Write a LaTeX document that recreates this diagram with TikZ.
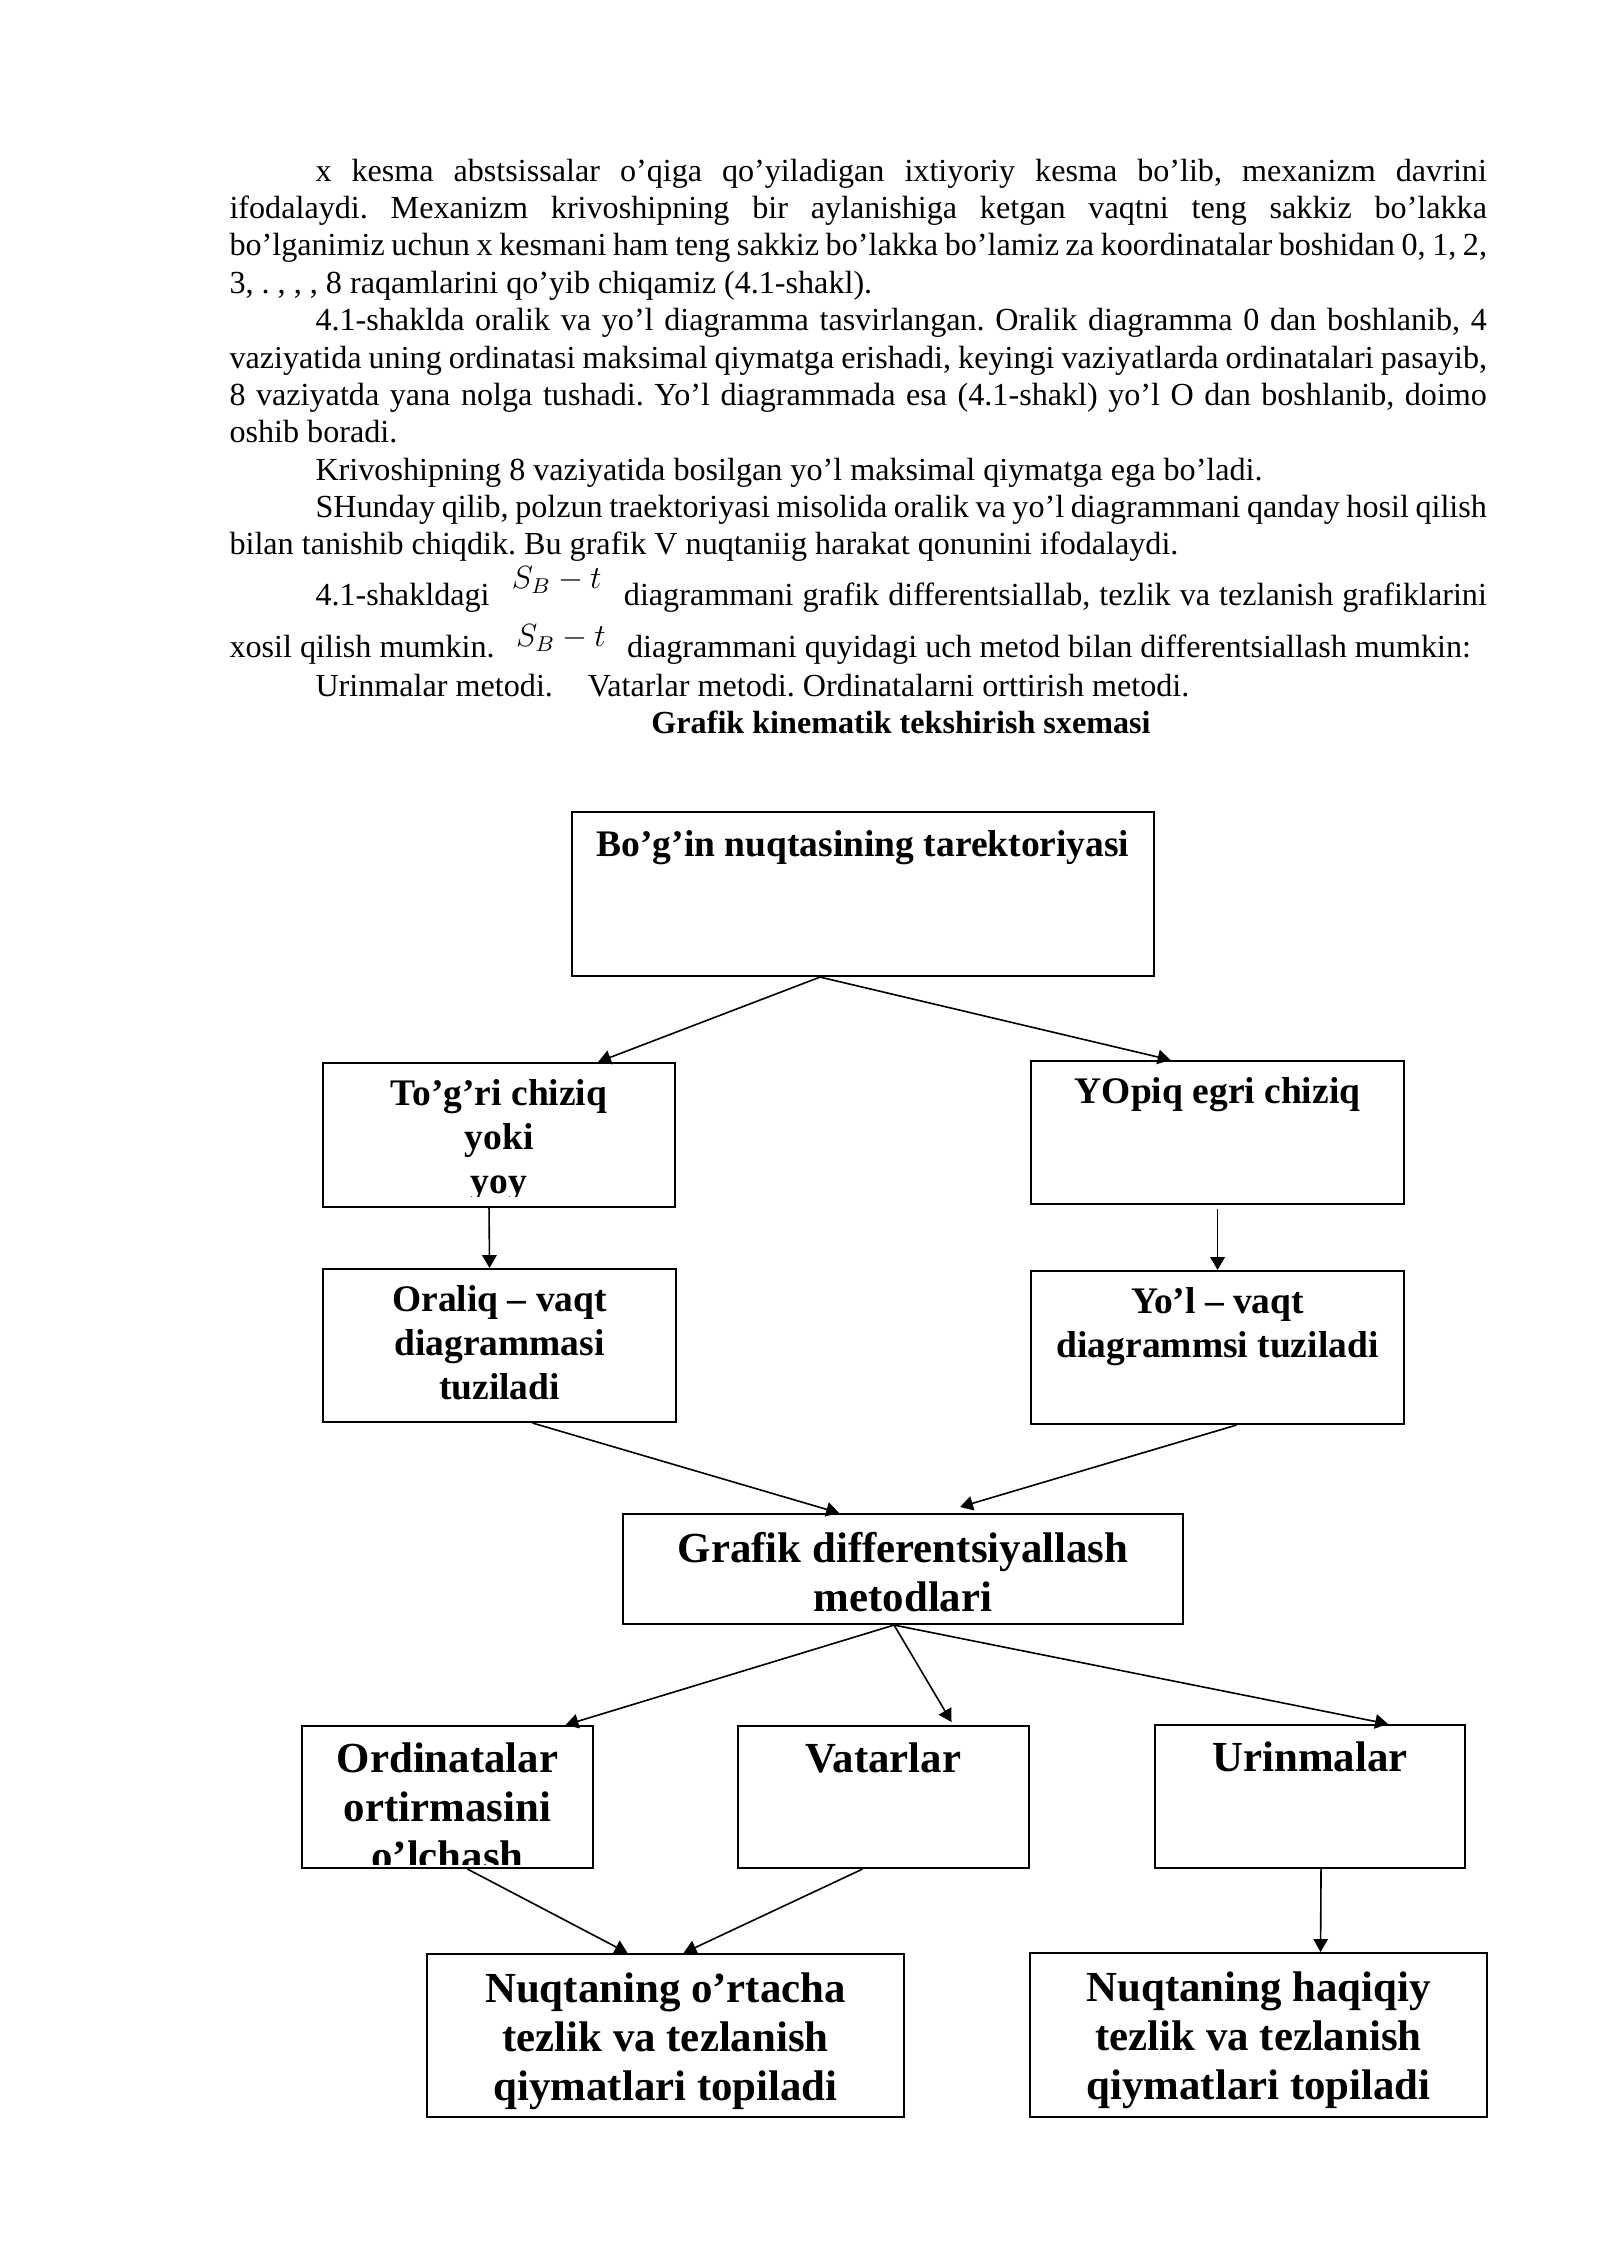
\documentclass[tikz,border=0pt]{standalone}
\usepackage{fontspec}
\setmainfont{Liberation Serif}
\usetikzlibrary{positioning,calc,arrows.meta}
\frenchspacing

\tikzset{
  blk/.style 2 args={draw, line width=0.75pt, anchor=north west, inner sep=0pt,
    minimum width=#1, minimum height=#2},
  txtline/.style={anchor=base west, inner sep=0pt, font=\fontsize{12}{13.9}\selectfont},
  lbl/.style={align=center, inner sep=0pt, font=\fontsize{14}{16.4}\selectfont\bfseries},
  lblbig/.style={align=center, inner sep=0pt, font=\fontsize{16}{18.3}\selectfont\bfseries},
  arr/.style={-{Triangle[length=4.8pt,width=5.4pt]}, line width=0.6pt}
}
\newcommand{\fullline}[1]{\makebox[16.5cm][s]{#1}}
\newcommand{\indline}[1]{\makebox[15.37cm][s]{#1}}

\begin{document}
\begin{tikzpicture}[x=0.013125cm, y=-0.013125cm]
  \useasboundingbox (0,0) rectangle (1600,2262);
  % text above the scheme
  \node[txtline] (l1) at (315,182) {\indline{x kesma abstsissalar o’qiga qo’yiladigan ixtiyoriy kesma bo’lib, mexanizm davrini}};
  \node[txtline] (l2) at (229,219) {\fullline{ifodalaydi. Mexanizm krivoshipning bir aylanishiga ketgan vaqtni teng sakkiz bo’lakka}};
  \node[txtline] (l3) at (229,256) {\fullline{bo’lganimiz uchun x kesmani ham teng sakkiz bo’lakka bo’lamiz za koordinatalar boshidan 0, 1, 2,}};
  \node[txtline] (l4) at (229,294) {3, . , , , 8 raqamlarini qo’yib chiqamiz (4.1-shakl).};
  \node[txtline] (l5) at (315,331) {\indline{4.1-shaklda oralik va yo’l diagramma tasvirlangan. Oralik diagramma 0 dan boshlanib, 4}};
  \node[txtline] (l6) at (229,368) {\fullline{vaziyatida uning ordinatasi maksimal qiymatga erishadi, keyingi vaziyatlarda ordinatalari pasayib,}};
  \node[txtline] (l7) at (229,405) {\fullline{8 vaziyatda yana nolga tushadi. Yo’l diagrammada esa (4.1-shakl) yo’l O dan boshlanib, doimo}};
  \node[txtline] (l8) at (229,442) {oshib boradi.};
  \node[txtline] (l9) at (315,480) {Krivoshipning 8 vaziyatida bosilgan yo’l maksimal qiymatga ega bo’ladi.};
  \node[txtline] (l10) at (315,517) {\indline{SHunday qilib, polzun traektoriyasi misolida oralik va yo’l diagrammani qanday hosil qilish}};
  \node[txtline] (l11) at (229,554) {bilan tanishib chiqdik. Bu grafik V nuqtaniig harakat qonunini ifodalaydi.};
  \node[txtline] (l12) at (315,605) {\indline{4.1-shakldagi \hspace{5pt}\raisebox{6pt}{$S_B - t$}\hspace{5pt} diagrammani grafik differentsiallab, tezlik va tezlanish grafiklarini}};
  \node[txtline] (l13) at (229,657) {xosil qilish mumkin. \hspace{5pt}\raisebox{4pt}{$S_B - t$}\hspace{5pt} diagrammani quyidagi uch metod bilan differentsiallash mumkin:};
  \node[txtline] (l14) at (315,696) {Urinmalar metodi.\hspace{13pt}Vatarlar metodi. Ordinatalarni orttirish metodi.};
  \node[txtline, anchor=base, font=\fontsize{12}{13.9}\selectfont\bfseries] (ttl) at (901,733) {Grafik kinematik tekshirish sxemasi};

  % boxes of the scheme
  \node[blk={7.639cm}{2.153cm}] (tb) at (571,811) {};
  \node[blk={4.620cm}{1.890cm}] (tgr) at (322,1062) {};
  \node[blk={4.896cm}{1.877cm}] (yop) at (1030,1060) {};
  \node[blk={4.633cm}{2.008cm}] (orl) at (322,1268) {};
  \node[blk={4.896cm}{2.008cm}] (yol) at (1030,1270) {};
  \node[blk={7.350cm}{1.444cm}] (grf) at (622,1513) {};
  \node[blk={3.819cm}{1.864cm}] (ord) at (301,1725) {};
  \node[blk={3.819cm}{1.864cm}] (vat) at (737,1725) {};
  \node[blk={4.069cm}{1.877cm}] (urn) at (1154,1724) {};
  \node[blk={6.261cm}{2.139cm}] (ort) at (426,1953) {};
  \node[blk={5.998cm}{2.153cm}] (haq) at (1029,1952) {};

  % texts in the boxes
  \node[lbl, below=0.186cm of tb.north] (tbtxt) {\strut Bo’g’in nuqtasining tarektoriyasi};
  \begin{scope}
    \clip (tgr.north west) rectangle ($(tgr.south east)+(0,-12)$);
    \node[lbl, below=0.16cm of tgr.north] (tgrtxt) {\strut To’g’ri chiziq\\ yoki\\ yoy};
  \end{scope}
  \node[lbl, below=0.16cm of yop.north] (yoptxt) {\strut YOpiq egri chiziq};
  \node[lbl, below=0.16cm of orl.north] (orltxt) {\strut Oraliq – vaqt\\ diagrammasi\\ tuziladi};
  \node[lbl, below=0.16cm of yol.north] (yoltxt) {\strut Yo’l – vaqt\\ diagrammsi tuziladi};
  \node[lblbig, below=0.19cm of grf.north] (grftxt) {\strut Grafik differentsiyallash\\ metodlari};
  \begin{scope}
    \clip (ord.north west) rectangle ($(ord.south east)+(0,-5)$);
    \node[lblbig, below=0.165cm of ord.north] (ordtxt) {\strut Ordinatalar\\ ortirmasini\\ o’lchash};
  \end{scope}
  \node[lblbig, below=0.165cm of vat.north] (vattxt) {\strut Vatarlar};
  \node[lblbig, below=0.165cm of urn.north] (urntxt) {\strut Urinmalar};
  \node[lblbig, below=0.19cm of ort.north] (orttxt) {\strut Nuqtaning o’rtacha\\ tezlik va tezlanish\\ qiymatlari topiladi};
  \node[lblbig, below=0.19cm of haq.north] (haqtxt) {\strut Nuqtaning haqiqiy\\ tezlik va tezlanish\\ qiymatlari topiladi};

  \begin{scope}[arr]
    \draw ($(tb.south)+(-43,0)$) to ($(tgr.north)+(99,0)$);
    \draw ($(tb.south)+(-43,0)$) to ($(yop.north)+(-47,0)$);
    \draw ($(tgr.south)+(-10,0)$) to ($(orl.north)+(-10,0)$);
    \draw ($(yop.south)+(0,4)$) to (yol.north);
    \draw ($(orl.south)+(33,0)$) to ($(grf.north)+(-64,0)$);
    \draw ($(yol.south)+(19,0)$) to ($(grf.north)+(57,-6)$);
    \draw ($(grf.south)+(-9,0)$) to ($(ord.north)+(118,0)$);
    \draw ($(grf.south)+(-9,0)$) to ($(vat.north)+(68,-3)$);
    \draw ($(grf.south)+(-9,0)$) to ($(urn.north)+(78,0)$);
    \draw ($(ord.south)+(20,0)$) to ($(ort.north)+(-38,0)$);
    \draw ($(vat.south)+(-21,0)$) to ($(ort.north)+(18,0)$);
    \draw ($(urn.south)+(11,0)$) to ($(haq.north)+(62,0)$);
  \end{scope}
\end{tikzpicture}
\end{document}
